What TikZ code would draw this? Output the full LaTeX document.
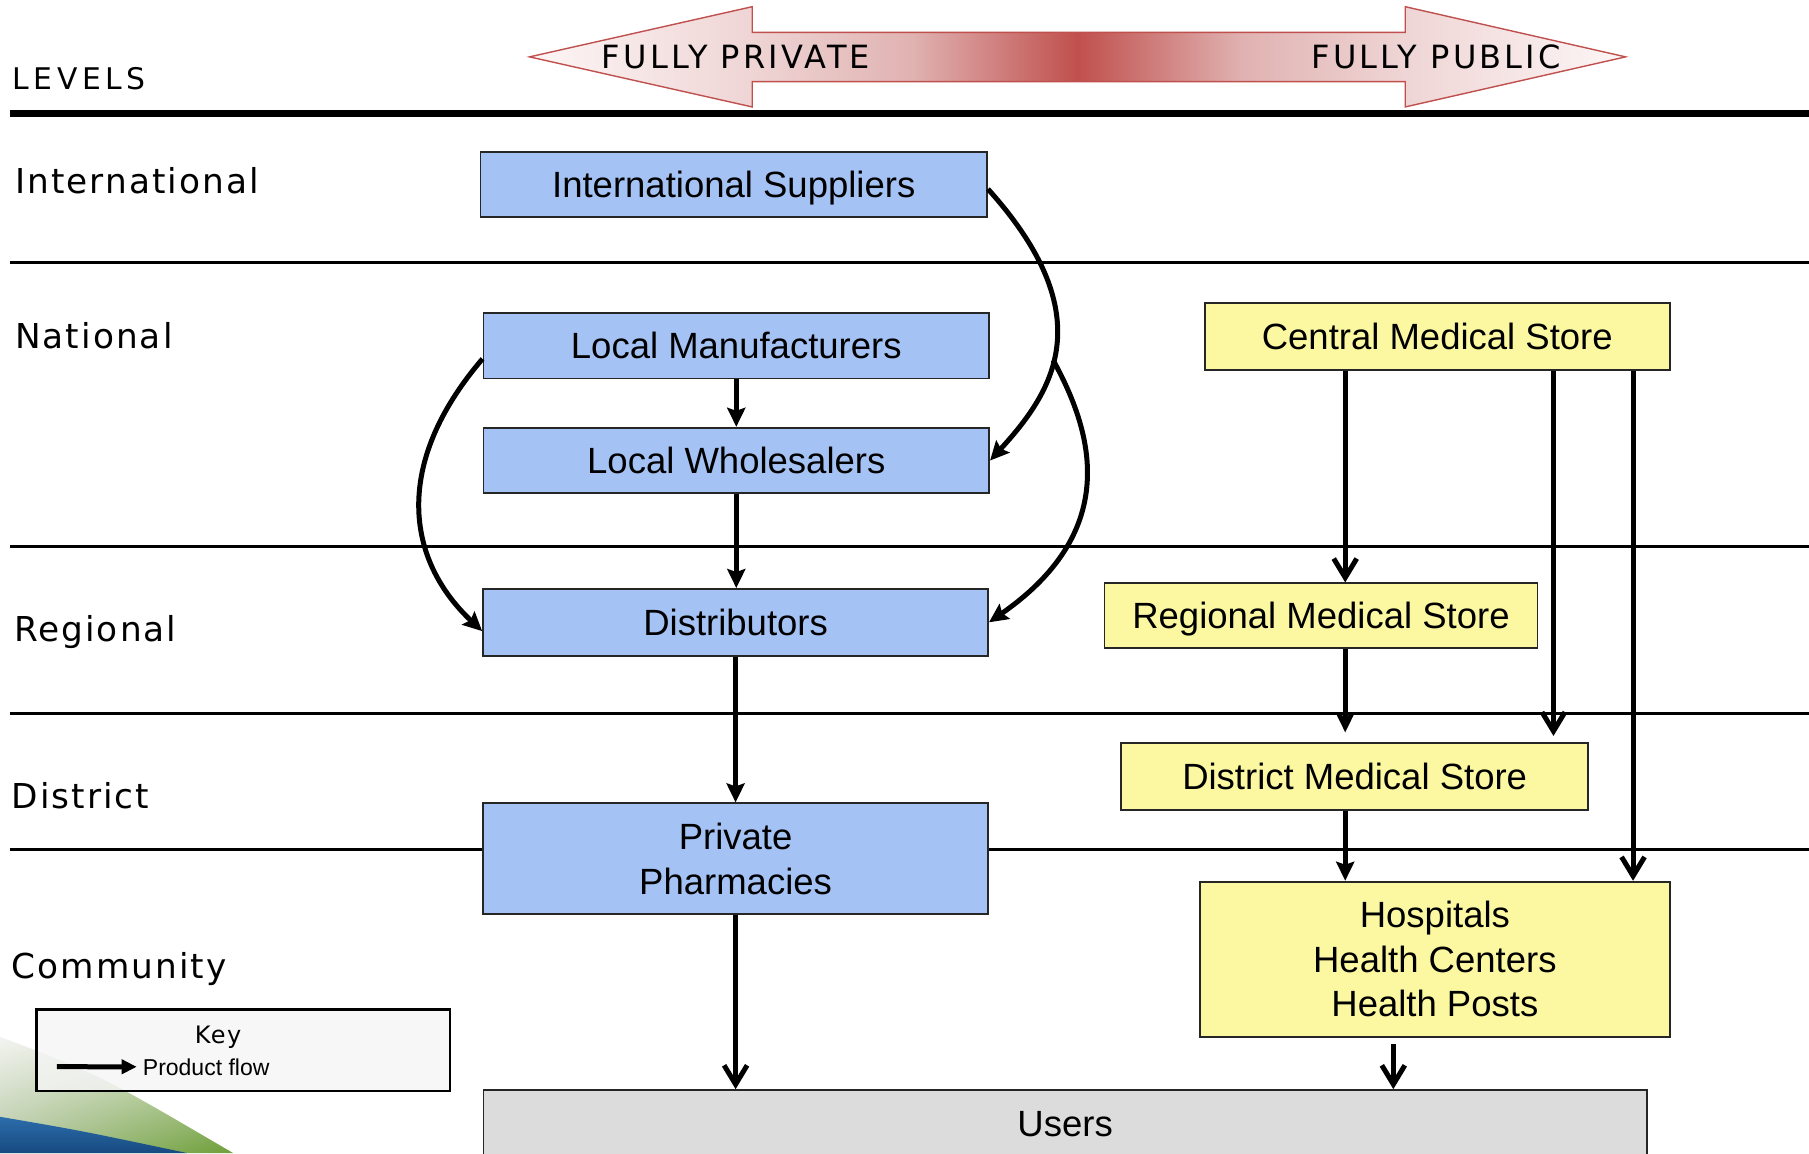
\documentclass[tikz,border=0pt]{standalone}
\usepackage{fontspec}
\setmainfont{Liberation Sans}
\newfontfamily\lvlfont[LetterSpace=6]{DejaVu Sans}
\newfontfamily\levfont[LetterSpace=15]{DejaVu Sans}
\newfontfamily\capfont[LetterSpace=10]{DejaVu Sans}
\usetikzlibrary{arrows.meta,calc,shadings}
\definecolor{boxblue}{HTML}{A4C2F4}
\definecolor{boxyellow}{HTML}{FCF8A2}
\definecolor{usersgray}{HTML}{DCDCDC}
\definecolor{arrred}{HTML}{C0504D}
\definecolor{rcA}{HTML}{FDF6F6}
\definecolor{rcB}{HTML}{EFD5D5}
\definecolor{rcC}{HTML}{E0B3B2}
\definecolor{swblueA}{HTML}{2C6DAA}
\definecolor{swblueB}{HTML}{174A80}
\definecolor{swUL}{HTML}{F3F4F1}
\definecolor{swUR}{HTML}{D6E2C8}
\definecolor{swLL}{HTML}{B4C7A2}
\definecolor{swLR}{HTML}{6E9F38}
\pgfdeclarehorizontalshading{redarrow}{100bp}{color(0bp)=(rcA); color(25bp)=(rcA); color(35.1bp)=(rcB); color(42.4bp)=(rcC); color(50bp)=(arrred); color(57.6bp)=(rcC); color(64.9bp)=(rcB); color(75bp)=(rcA); color(100bp)=(rcA)}
\tikzset{
  lvl/.style={anchor=base west, inner sep=0pt, font=\lvlfont\fontsize{34.3}{40}\selectfont},
  nbox/.style={draw=black!85, line width=1.8pt, inner sep=0pt, align=center,
    font=\fontsize{36.5}{44.5}\selectfont},
  oneline/.style={text height=26.1pt, text depth=0pt},
  pubbox/.style={nbox, fill=boxyellow},
  privbox/.style={nbox, fill=boxblue},
  sepline/.style={line width=2.6pt},
  flow/.style={line width=5pt, -{Stealth[length=19pt,width=18pt,inset=3pt]}},
  vflow/.style={line width=5pt, -{Straight Barb[length=19pt,width=23pt]}},
  arrtext/.style={anchor=base, inner sep=0pt, font=\capfont\fontsize{32}{36}\selectfont},
}
\begin{document}
\begin{tikzpicture}[x=1.1537pt, y=-1.1537pt]
\useasboundingbox (0,0) rectangle (1568,999.4);
% background swoosh
\shade[upper left=swUL, upper right=swUR, lower left=swLL, lower right=swLR]
  (0,898.6) .. controls (86.7,931.8) .. (202,999.4) -- (0,999.4) -- cycle;
\shade[top color=swblueA, bottom color=swblueB]
  (0,968) .. controls (70,980) .. (162,999.4) -- (0,999.4) -- cycle;
% level separators
\draw[line width=6.5pt] (8.7,98.2) -- (1568,98.2);
\draw[sepline] (8.7,227.7) -- (1568,227.7);
\draw[sepline] (8.7,473.8) -- (1568,473.8);
\draw[sepline] (8.7,618.3) -- (1568,618.3);
\draw[sepline] (8.7,736.2) -- (1568,736.2);
% level labels
\node[anchor=base west, inner sep=0pt, font=\levfont\fontsize{29.8}{34}\selectfont] (levels) at (11,78) {LEVELS};
\node[lvl] (lInt) at (13,167.6) {International};
\node[lvl] (lNat) at (13,302) {National};
\node[lvl] (lReg) at (12,556) {Regional};
\node[lvl] (lDis) at (10,701) {District};
\node[lvl] (lCom) at (10,848) {Community};
% top double arrow
\shadedraw[shading=redarrow, draw=arrred, line width=1.4pt]
  (459,49.3) -- (652,5.8) -- (652,28) -- (1218,28) -- (1218,5.8) -- (1409,49.3)
  -- (1218,92.7) -- (1218,70.8) -- (652,70.8) -- (652,92.7) -- cycle;
\node[arrtext] (fpriv) at (638,59.2) {FULLY PRIVATE};
\node[arrtext] (fpub) at (1245,59.2) {FULLY PUBLIC};
% boxes
\node[privbox, oneline, minimum width=506.6pt, minimum height=65.6pt] (IS) at (636,160) {International Suppliers};
\node[privbox, oneline, minimum width=505.7pt, minimum height=65.8pt] (LM) at (638.2,299.5) {Local Manufacturers};
\node[privbox, oneline, minimum width=505.7pt, minimum height=65.6pt] (LW) at (638.2,399.2) {Local Wholesalers};
\node[privbox, oneline, minimum width=505.0pt, minimum height=66.7pt] (Dist) at (637.6,539.4) {Distributors};
\node[privbox, minimum width=505.0pt, minimum height=111pt] (PP) at (637.6,744.4) {Private\\Pharmacies};
\node[pubbox, oneline, minimum width=464.7pt, minimum height=66.7pt] (CMS) at (1245.8,291.8) {Central Medical Store};
\node[pubbox, oneline, minimum width=432.8pt, minimum height=65.1pt] (RMS) at (1145,533.8) {Regional Medical Store};
\node[pubbox, oneline, minimum width=467.0pt, minimum height=66.7pt] (DMS) at (1174.2,673.2) {District Medical Store};
\node[pubbox, minimum width=469.7pt, minimum height=155.5pt] (Hosp) at (1243.7,831.6) {Hospitals\\Health Centers\\Health Posts};
\node[nbox, oneline, fill=usersgray, minimum width=1163.4pt, minimum height=67.1pt] (Users) at (923.2,973.9) {Users};
% private flows
\draw[flow] (LM.south) -- (LM.south |- LW.north);
\draw[flow] (LW.south) -- (LW.south |- Dist.north);
\draw[flow] (Dist.south) -- (PP.north);
\draw[vflow] (PP.south) -- (PP.south |- Users.north);
\draw[flow] (IS.-1) .. controls +(100,111) and +(54,-59) .. (LW.east) coordinate[pos=0.55] (br);
\draw[flow] (br) .. controls +(31.6,57.9) and +(118,-82) .. (Dist.east);
\draw[flow] (LM.183) .. controls +(-78,91) and +(-66,-62) .. (Dist.182);
% public flows
\coordinate (c1) at (1166,0);
\coordinate (c2) at (1346.5,0);
\coordinate (c3) at (1415.5,0);
\coordinate (c4) at (1207.7,0);
\draw[vflow] (CMS.south -| c1) -- (RMS.north -| c1);
\draw[flow, shorten >=10pt] (RMS.south -| c1) -- (DMS.north -| c1);
\draw[flow] (DMS.south -| c1) -- (Hosp.north -| c1);
\draw[vflow, shorten >=6.5pt] (CMS.south -| c2) -- (DMS.north -| c2);
\draw[vflow] (CMS.south -| c3) -- (Hosp.north -| c3);
\draw[vflow, shorten <=5.5pt] (Hosp.south -| c4) -- (Users.north -| c4);
% key
\node[draw=black, line width=2.4pt, fill=black!4, fill opacity=0.8, minimum width=413.3pt, minimum height=81.6pt] (key) at (210.9,910.2) {};
\node[anchor=base, inner sep=0pt, font=\lvlfont\fontsize{24}{28}\selectfont] (keyt) at (189,904.3) {Key};
\node[anchor=base west, inner sep=0pt, font=\fontsize{23}{27}\selectfont] (pf) at (123.7,931.8) {Product flow};
\coordinate (k1) at (49.4,924.6);
\draw[line width=5pt, -{Triangle[length=15pt,width=14pt]}, shorten >=6pt] (k1) -- (pf.west);
\end{tikzpicture}
\end{document}
